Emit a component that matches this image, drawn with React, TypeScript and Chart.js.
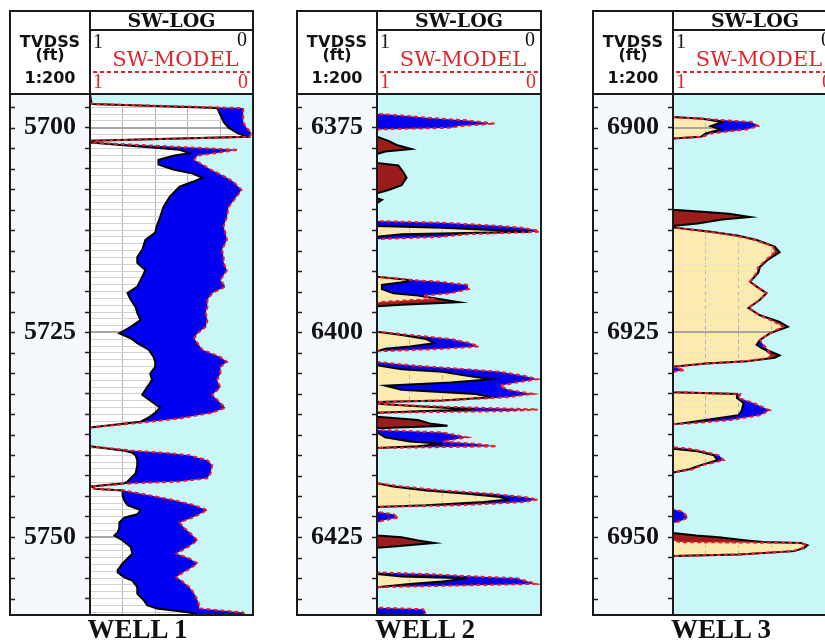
import React, { useEffect, useRef } from "react";
import { Chart, registerables } from "chart.js";
Chart.register(...registerables);

// ---------------- DATA ----------------
// WELL 1 (depth TVDSS ft, SW-LOG, SW-MODEL)
const WELL1_DEPTH = [5696.0, 5697.1, 5697.6, 5698.0, 5699.3, 5700.0, 5700.6, 5701.1, 5701.6, 5701.8, 5702.7, 5703.1, 5703.4, 5703.9, 5704.5, 5705.1, 5705.6, 5706.1, 5706.6, 5707.2, 5707.6, 5708.4, 5709.7, 5710.9, 5712.0, 5712.8, 5713.7, 5714.9, 5715.8, 5716.5, 5717.4, 5718.6, 5719.4, 5720.2, 5721.0, 5721.9, 5722.6, 5723.5, 5724.3, 5725.1, 5725.7, 5726.3, 5727.1, 5728.0, 5728.6, 5729.2, 5730.0, 5730.8, 5731.7, 5732.6, 5733.6, 5734.2, 5734.8, 5735.5, 5735.9, 5736.6, 5738.9, 5739.4, 5739.7, 5740.0, 5740.6, 5741.2, 5742.2, 5742.8, 5743.2, 5743.4, 5743.8, 5744.1, 5744.3, 5744.9, 5745.5, 5746.1, 5746.7, 5747.2, 5747.6, 5748.2, 5748.9, 5749.4, 5749.8, 5750.4, 5751.2, 5752.0, 5752.6, 5753.2, 5754.0, 5754.3, 5754.9, 5755.3, 5756.1, 5756.9, 5757.7, 5758.3, 5758.7, 5759.2, 5759.5];
const WELL1_SW_LOG = [1, 0.99, 0.22, 0.21, 0.18, 0.15, 0.10, 0.04, 1, 1, 0.45, 0.39, 0.48, 0.58, 0.58, 0.49, 0.37, 0.31, 0.37, 0.45, 0.47, 0.51, 0.55, 0.57, 0.59, 0.60, 0.66, 0.68, 0.71, 0.71, 0.66, 0.69, 0.71, 0.77, 0.75, 0.72, 0.71, 0.69, 0.75, 0.82, 0.75, 0.71, 0.64, 0.61, 0.60, 0.60, 0.63, 0.62, 0.65, 0.68, 0.61, 0.57, 0.60, 0.65, 0.69, 1, 1, 0.80, 0.74, 0.72, 0.71, 0.71, 0.72, 0.75, 0.77, 0.79, 0.99, 0.97, 0.80, 0.80, 0.79, 0.77, 0.69, 0.71, 0.79, 0.82, 0.82, 0.83, 0.85, 0.80, 0.75, 0.74, 0.77, 0.80, 0.83, 0.83, 0.79, 0.74, 0.71, 0.71, 0.67, 0.65, 0.59, 0.39, 0.33];
const WELL1_SW_MODEL = [1, 0.99, 0.06, 0.06, 0.06, 0.04, 0.01, 0.02, 1, 1, 0.09, 0.23, 0.34, 0.36, 0.31, 0.26, 0.21, 0.16, 0.12, 0.09, 0.07, 0.10, 0.15, 0.16, 0.18, 0.17, 0.16, 0.19, 0.18, 0.18, 0.16, 0.20, 0.17, 0.25, 0.28, 0.28, 0.29, 0.28, 0.29, 0.34, 0.36, 0.34, 0.31, 0.20, 0.16, 0.20, 0.20, 0.22, 0.20, 0.25, 0.20, 0.17, 0.25, 0.45, 0.63, 1, 1, 0.75, 0.54, 0.39, 0.28, 0.25, 0.26, 0.28, 0.45, 0.72, 0.99, 0.97, 0.79, 0.63, 0.48, 0.36, 0.28, 0.33, 0.37, 0.45, 0.42, 0.39, 0.37, 0.34, 0.40, 0.47, 0.39, 0.34, 0.40, 0.43, 0.47, 0.44, 0.39, 0.36, 0.34, 0.33, 0.33, 0.06, 0.05];
const WELL1_LABELS = [5700, 5725, 5750];

// WELL 2
const WELL2_DEPTH = [6371.0, 6373.3, 6373.5, 6373.8, 6374.1, 6374.5, 6374.8, 6375.0, 6375.2, 6376.1, 6376.6, 6377.1, 6377.6, 6377.9, 6378.2, 6379.3, 6379.6, 6380.4, 6381.1, 6382.0, 6382.6, 6383.0, 6383.6, 6383.8, 6384.2, 6386.4, 6386.6, 6387.0, 6387.2, 6387.5, 6387.7, 6388.0, 6388.3, 6388.6, 6393.2, 6393.6, 6393.8, 6394.2, 6394.7, 6395.2, 6395.5, 6395.9, 6396.3, 6396.6, 6396.8, 6399.9, 6400.3, 6400.8, 6401.3, 6401.7, 6402.0, 6402.3, 6403.6, 6404.0, 6404.5, 6404.8, 6405.3, 6405.7, 6406.1, 6406.5, 6407.0, 6407.5, 6407.9, 6408.3, 6408.5, 6408.7, 6409.0, 6409.4, 6409.6, 6409.8, 6410.3, 6410.7, 6411.1, 6411.4, 6411.7, 6411.9, 6412.2, 6412.8, 6413.3, 6413.6, 6413.9, 6414.1, 6418.4, 6418.8, 6419.3, 6419.7, 6420.1, 6420.4, 6420.7, 6421.1, 6421.3, 6421.9, 6422.2, 6422.6, 6422.9, 6423.2, 6424.8, 6425.0, 6425.4, 6425.7, 6426.1, 6426.3, 6429.3, 6429.5, 6429.8, 6430.0, 6430.4, 6430.7, 6431.1, 6433.6, 6433.8, 6434.2, 6434.5];
const WELL2_SW_LOG = [1, 1, 1, 1, 1, 1, 1, 1, 1, 1, 0.93, 0.88, 0.79, 0.95, 1, 1, 0.87, 0.84, 0.82, 0.85, 0.93, 1, 1, 0.97, 1, 1, 1, 1, 0.60, 0.30, 0.06, 0.85, 1, 1, 1, 0.80, 0.82, 0.97, 0.97, 0.90, 0.75, 0.62, 0.50, 0.85, 1, 1, 0.85, 0.70, 0.65, 0.80, 0.95, 1, 1, 1, 0.85, 0.60, 0.45, 0.30, 0.55, 0.95, 0.85, 0.40, 0.30, 0.60, 1, 1, 0.75, 0.40, 0.70, 1, 1, 0.75, 0.68, 0.57, 1, 1, 1, 0.95, 0.80, 0.60, 0.75, 1, 1, 0.90, 0.70, 0.45, 0.25, 0.20, 0.35, 0.70, 1, 1, 1, 1, 1, 1, 1, 0.85, 0.75, 0.65, 0.88, 1, 1, 1, 0.85, 0.45, 0.60, 0.80, 1, 1, 1, 1, 1];
const WELL2_SW_MODEL = [1, 1, 0.85, 0.68, 0.45, 0.28, 0.50, 0.55, 1, 1, 1, 1, 1, 1, 1, 1, 1, 1, 1, 1, 1, 1, 1, 1, 1, 1, 0.60, 0.25, 0.12, 0.03, 0.01, 0.45, 0.60, 1, 1, 0.78, 0.62, 0.45, 0.44, 0.55, 0.72, 0.66, 0.99, 1, 1, 1, 0.80, 0.55, 0.43, 0.38, 0.60, 1, 1, 0.80, 0.45, 0.25, 0.10, 0.02, 0.15, 0.25, 0.20, 0.05, 0.20, 0.60, 1, 1, 0.70, 0.02, 0.20, 1, 1, 1, 1, 1, 1, 1, 0.60, 0.45, 0.60, 0.40, 0.27, 1, 1, 0.85, 0.60, 0.30, 0.10, 0.02, 0.10, 0.50, 1, 1, 0.90, 0.87, 0.95, 1, 1, 1, 1, 1, 1, 1, 1, 0.70, 0.40, 0.15, 0.08, 0.03, 1, 1, 0.72, 0.70, 0.72];
const WELL2_LABELS = [6375, 6400, 6425];

// WELL 3
const WELL3_DEPTH = [6896.0, 6898.7, 6898.9, 6899.3, 6899.8, 6900.2, 6900.7, 6901.1, 6901.3, 6910.0, 6910.3, 6910.5, 6910.9, 6911.2, 6911.7, 6912.0, 6912.2, 6912.7, 6913.2, 6913.7, 6914.5, 6915.2, 6916.1, 6917.0, 6917.7, 6918.8, 6919.4, 6920.2, 6921.0, 6922.0, 6922.9, 6923.7, 6924.3, 6925.1, 6925.9, 6926.5, 6926.9, 6927.8, 6928.1, 6928.5, 6928.8, 6929.2, 6929.6, 6929.8, 6932.3, 6932.5, 6933.0, 6933.6, 6934.5, 6935.1, 6935.7, 6936.1, 6936.2, 6939.0, 6939.2, 6939.5, 6940.0, 6940.6, 6941.2, 6941.7, 6942.1, 6946.6, 6946.9, 6947.6, 6948.0, 6948.3, 6949.5, 6949.8, 6950.0, 6950.4, 6950.6, 6950.7, 6951.0, 6951.3, 6951.7, 6952.1, 6952.3, 6959.5];
const WELL3_SW_LOG = [1, 1, 0.82, 0.70, 0.77, 0.71, 0.80, 0.83, 1, 1, 0.80, 0.66, 0.53, 0.70, 0.85, 1, 0.99, 0.77, 0.60, 0.49, 0.38, 0.35, 0.42, 0.47, 0.48, 0.53, 0.49, 0.43, 0.47, 0.54, 0.47, 0.35, 0.30, 0.41, 0.47, 0.49, 0.46, 0.35, 0.38, 0.55, 0.80, 1, 1, 1, 1, 0.61, 0.61, 0.57, 0.58, 0.60, 0.80, 0.95, 1, 1, 1, 0.85, 0.75, 0.73, 0.83, 0.90, 1, 1, 1, 1, 1, 1, 1, 0.86, 0.72, 0.55, 0.45, 0.22, 0.18, 0.20, 0.26, 0.60, 1, 1];
const WELL3_SW_MODEL = [1, 1, 0.82, 0.52, 0.48, 0.55, 0.77, 0.82, 1, 1, 1, 1, 1, 1, 1, 1, 0.99, 0.78, 0.61, 0.50, 0.39, 0.38, 0.43, 0.48, 0.49, 0.53, 0.49, 0.43, 0.47, 0.54, 0.47, 0.38, 0.33, 0.41, 0.47, 0.45, 0.43, 0.40, 0.42, 0.55, 0.80, 1, 0.93, 1, 1, 0.59, 0.60, 0.51, 0.41, 0.47, 0.65, 0.90, 1, 1, 0.90, 0.82, 0.72, 0.69, 0.82, 0.88, 1, 1, 0.94, 0.91, 0.95, 1, 1, 1, 1, 1, 0.95, 0.22, 0.19, 0.21, 0.27, 0.58, 1, 1];
const WELL3_LABELS = [6900, 6925, 6950];

// ---------------- STYLE ----------------
const CYAN = "#c9f6f6";
const YELLOW = "#fcebab";
const BLUE = "#0000f2";
const BROWN = "#9c1c1c";
const RED = "#ee1c24";
const TEXT_RED = "#e0242b";
const INK = "#1a1a1a";
const SERIF = "'Liberation Serif', 'Times New Roman', serif";
const WIDE_SERIF = "'DejaVu Serif', 'Liberation Serif', serif";
const SANS = "'DejaVu Sans', Verdana, sans-serif";

interface Well {
  title: string;
  depth: number[];
  log: number[];
  model: number[];
  labels: number[];
  min: number;
  max: number;
  left: number;
  logLeft: number;
  right: number;
  base: string;
  minorGrid: string;
  vDash: number[];
}

const WELLS: Well[] = [
  { title: "WELL 1", depth: WELL1_DEPTH, log: WELL1_SW_LOG, model: WELL1_SW_MODEL, labels: WELL1_LABELS, min: 5696, max: 5759.5, left: 10, logLeft: 90, right: 253, base: "#ffffff", minorGrid: "#d2d2d2", vDash: [] },
  { title: "WELL 2", depth: WELL2_DEPTH, log: WELL2_SW_LOG, model: WELL2_SW_MODEL, labels: WELL2_LABELS, min: 6371, max: 6434.5, left: 297, logLeft: 377, right: 541, base: YELLOW, minorGrid: "#efe6c8", vDash: [4, 3] },
  { title: "WELL 3", depth: WELL3_DEPTH, log: WELL3_SW_LOG, model: WELL3_SW_MODEL, labels: WELL3_LABELS, min: 6896, max: 6959.5, left: 593, logLeft: 673, right: 837, base: YELLOW, minorGrid: "#efe6c8", vDash: [4, 3] },
];

const PLOT_TOP = 95;
const PLOT_BOTTOM = 615;
const CANVAS_H = 640;

const trackBg = {
  id: "trackBg",
  beforeDraw(chart: any, _args: any, opts: any) {
    const { ctx, chartArea: a } = chart;
    ctx.save();
    ctx.fillStyle = opts.color;
    ctx.fillRect(a.left, a.top, a.right - a.left, a.bottom - a.top);
    ctx.restore();
  },
};

const leftTicks = {
  id: "leftTicks",
  afterDraw(chart: any) {
    const s = chart.scales.y;
    const ctx = chart.ctx;
    ctx.save();
    ctx.strokeStyle = "#222";
    ctx.lineWidth = 1.5;
    s.ticks.forEach((_t: any, i: number) => {
      const y = Math.round(s.getPixelForTick(i)) + 0.5;
      ctx.beginPath();
      ctx.moveTo(s.left, y);
      ctx.lineTo(s.left + 5, y);
      ctx.stroke();
    });
    ctx.restore();
  },
};

function makeConfig(w: Well): any {
  const pts = (vals: number[]) => vals.map((v, i) => ({ x: v, y: w.depth[i] }));
  const leftmost = w.log.map((v, i) => Math.max(v, w.model[i]));
  const rightmost = w.log.map((v, i) => Math.min(v, w.model[i]));
  const isMajor = (v: number) => w.labels.some((l) => Math.abs(l - v) < 0.01);
  return {
    type: "line",
    data: {
      datasets: [
        { label: "SW-MODEL", data: pts(w.model), borderColor: RED, borderWidth: 2, borderDash: [4, 3], backgroundColor: BLUE, fill: 2, pointRadius: 0, tension: 0 },
        { label: "SW-LOG", data: pts(w.log), borderColor: "#000000", borderWidth: 2, backgroundColor: BROWN, fill: 2, pointRadius: 0, tension: 0 },
        { label: "max", data: pts(leftmost), borderWidth: 0, borderColor: "rgba(0,0,0,0)", fill: false, pointRadius: 0, tension: 0 },
        { label: "min", data: pts(rightmost), borderWidth: 0, borderColor: "rgba(0,0,0,0)", backgroundColor: CYAN, fill: { value: 0 }, pointRadius: 0, tension: 0 },
      ],
    },
    options: {
      indexAxis: "y",
      responsive: false,
      animation: false,
      devicePixelRatio: 1,
      events: [],
      layout: { padding: { left: 2, right: 2, top: PLOT_TOP, bottom: CANVAS_H - PLOT_BOTTOM } },
      plugins: {
        legend: { display: false },
        tooltip: { enabled: false },
        filler: { drawTime: "beforeDatasetsDraw", propagate: false },
        trackBg: { color: w.base },
      },
      scales: {
        x: {
          type: "linear",
          min: 0,
          max: 1,
          reverse: true,
          position: "top",
          afterFit: (s: any) => { s.height = 0; },
          ticks: { display: false, stepSize: 0.2 },
          grid: { drawTicks: false, color: "#b4b4b4", lineWidth: 1 },
          border: { display: false, dash: w.vDash },
        },
        y: {
          type: "linear",
          min: w.min,
          max: w.max,
          reverse: true,
          position: "left",
          afterFit: (s: any) => { s.width = w.logLeft - w.left; },
          ticks: {
            stepSize: 2.5,
            includeBounds: false,
            autoSkip: false,
            crossAlign: "center",
            padding: 9,
            color: "#111",
            font: { family: SERIF, size: 26, weight: "bold" },
            callback: (v: any) => (isMajor(Number(v)) ? String(Math.round(Number(v))) : ""),
          },
          grid: { drawOnChartArea: false, drawTicks: true, tickLength: 5, tickColor: "#222", tickWidth: 1.5 },
          border: { display: false },
        },
        y2: {
          type: "linear",
          min: w.min,
          max: w.max,
          reverse: true,
          position: "right",
          afterFit: (s: any) => { s.width = 0; },
          ticks: { display: false, stepSize: 2.5 / 3, includeBounds: false },
          grid: {
            drawTicks: false,
            color: (c: any) => (c.tick && isMajor(c.tick.value) ? "#a6a6a6" : w.minorGrid),
            lineWidth: (c: any) => (c.tick && isMajor(c.tick.value) ? 2 : 1),
          },
          border: { display: false },
        },
      },
    },
    plugins: [trackBg, leftTicks],
  };
}

const abs = (s: React.CSSProperties): React.CSSProperties => ({ position: "absolute", margin: 0, padding: 0, whiteSpace: "nowrap", ...s });

function WellPanel({ w }: { w: Well }) {
  const ref = useRef<HTMLCanvasElement | null>(null);
  useEffect(() => {
    if (!ref.current) return;
    const chart = new Chart(ref.current, makeConfig(w));
    return () => chart.destroy();
  }, [w]);
  const PL = w.left, LL = w.logLeft, PR = w.right;
  const cw = PR - PL + 4;
  const depthW = LL - PL;
  const logW = PR - LL;
  return (
    <>
      <div style={abs({ left: PL, top: 11, width: PR - PL, height: 83, background: "#ffffff" })} />
      <div style={abs({ left: PL, top: 95, width: depthW, height: 520, background: "#f5f9fd" })} />
      <canvas ref={ref} width={cw} height={CANVAS_H} style={abs({ left: PL - 2, top: 0, width: cw, height: CANVAS_H })} />
      {/* frame */}
      <div style={abs({ left: PL - 1, top: 10, width: PR - PL + 2, height: 606, border: `2px solid ${INK}`, boxSizing: "border-box" })} />
      <div style={abs({ left: LL - 1, top: 10, width: 2, height: 606, background: INK })} />
      <div style={abs({ left: LL, top: 29, width: logW, height: 2, background: INK })} />
      <div style={abs({ left: PL, top: 93, width: PR - PL, height: 2, background: INK })} />
      <div style={abs({ left: LL + 3, top: 71, width: logW - 6, height: 2, background: `repeating-linear-gradient(to right, ${RED} 0px, ${RED} 4px, rgba(0,0,0,0) 4px, rgba(0,0,0,0) 7px)` })} />
      {/* depth header */}
      <div style={abs({ left: PL, width: depthW, top: 34, textAlign: "center", font: `bold 16px ${SANS}`, lineHeight: "16px", letterSpacing: "0.3px", color: "#111" })}>TVDSS</div>
      <div style={abs({ left: PL, width: depthW, top: 47, textAlign: "center", font: `bold 16px ${SANS}`, lineHeight: "16px", color: "#111" })}>(ft)</div>
      <div style={abs({ left: PL, width: depthW, top: 70, textAlign: "center", font: `bold 16px ${SANS}`, lineHeight: "16px", color: "#111" })}>1:200</div>
      {/* log header */}
      <div style={abs({ left: LL, width: logW, top: 11, textAlign: "center", font: `bold 19px ${WIDE_SERIF}`, lineHeight: "19px", color: "#111" })}>SW-LOG</div>
      <div style={abs({ left: LL + 3, top: 31, font: `20px ${SERIF}`, lineHeight: "20px", color: "#111" })}>1</div>
      <div style={abs({ left: PR - 40, width: 34, top: 29, textAlign: "right", font: `20px ${SERIF}`, lineHeight: "20px", color: "#111" })}>0</div>
      <div style={abs({ left: LL + 4, width: logW, top: 49, textAlign: "center", font: `21px ${WIDE_SERIF}`, lineHeight: "21px", color: TEXT_RED })}>SW-MODEL</div>
      <div style={abs({ left: LL + 3, top: 71, font: `20px ${SERIF}`, lineHeight: "20px", color: TEXT_RED })}>1</div>
      <div style={abs({ left: PR - 40, width: 35, top: 71, textAlign: "right", font: `20px ${SERIF}`, lineHeight: "20px", color: TEXT_RED })}>0</div>
      {/* well name */}
      <div style={abs({ left: PL + 6, width: PR - PL, top: 616, textAlign: "center", font: `bold 27px ${SERIF}`, lineHeight: "27px", color: "#111" })}>{w.title}</div>
    </>
  );
}

export default function App() {
  return (
    <div style={{ position: "fixed", left: 0, top: 0, width: 825, height: 640, overflow: "hidden", background: "#ffffff" }}>
      {WELLS.map((w) => (
        <WellPanel key={w.title} w={w} />
      ))}
    </div>
  );
}
